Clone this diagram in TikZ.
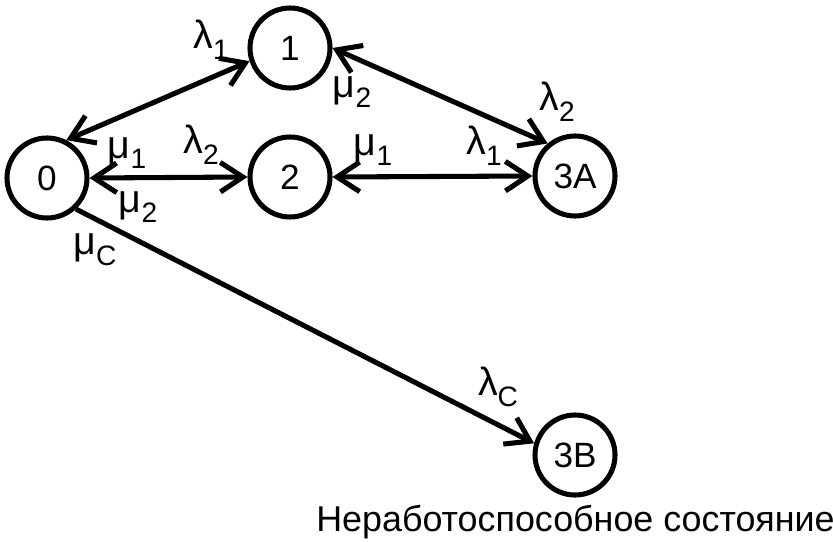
\documentclass[tikz,border=0pt]{standalone}
\usepackage{fontspec}
\setmainfont{Liberation Sans}
\usetikzlibrary{arrows.meta}
\newcommand\gsub[2]{{\fontsize{28}{30}\selectfont #1}\raisebox{-0.3em}{\fontsize{20}{22}\selectfont #2}}
\begin{document}
\begin{tikzpicture}[
    state/.style={draw, circle, line width=3.6pt, minimum size=2cm, inner sep=0pt},
    link/.style={line width=3.6pt, -{Straight Barb[length=16pt,width=21pt]}},
    both/.style={line width=3.6pt, {Straight Barb[length=16pt,width=21pt]}-{Straight Barb[length=16pt,width=21pt]}},
    font=\fontsize{25}{28}\selectfont]
    \useasboundingbox (0,0) rectangle (20.825,13.525);
    \node [state] (s0) at (1.175,9.075) {0};
    \node [state] (s1) at (7.25,12.325) {1};
    \node [state] (s2) at (7.25,9.1) {2};
    \node [state] (s3A) at (14.375,9.125) {3A};
    \node [state] (s3B) at (14.375,2.15) {3B};
    \draw [both] (s0.63) -- (s1.198);
    \draw [both] (s0.east) -- (s2.west);
    \draw [both] (s2.east) -- (s3A.west);
    \draw [both] (s1.east) -- (s3A.130);
    \draw [link] (s0.-47) -- (s3B.164);
    \node (l01) at (5.275,12.525) {\gsub{λ}{1}};
    \node (m02) at (3.175,9.7) {\gsub{μ}{1}};
    \node (l02) at (5.025,9.9) {\gsub{λ}{2}};
    \node (m20) at (3.45,8.35) {\gsub{μ}{2}};
    \node (mC) at (2.375,7.275) {\gsub{μ}{C}};
    \node (m13) at (8.8,11.225) {\gsub{μ}{2}};
    \node (l13) at (13.925,10.975) {\gsub{λ}{2}};
    \node (m23) at (9.325,9.775) {\gsub{μ}{1}};
    \node (l23) at (12.1,9.875) {\gsub{λ}{1}};
    \node (lC) at (12.45,3.85) {\gsub{λ}{C}};
    \node (caption) at (14.3875,0.475) {\fontsize{25.5}{28}\selectfont Неработоспособное состояние};
\end{tikzpicture}
\end{document}
